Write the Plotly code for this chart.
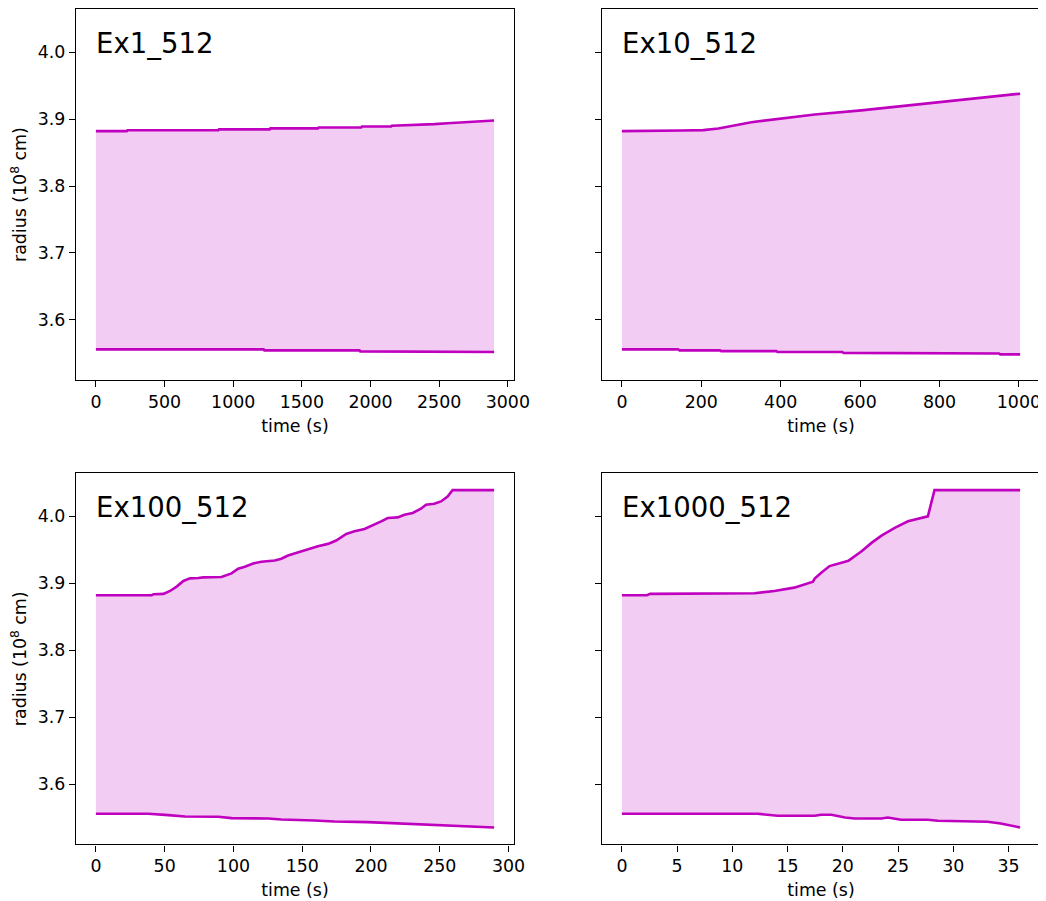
import plotly.graph_objects as go

# ---------------- data (time in s, radius in 1e8 cm) ----------------
panel_names = ["Ex1_512", "Ex10_512", "Ex100_512", "Ex1000_512"]

ex1_t_upper = [0, 225, 230, 891, 896, 1266, 1271, 1617, 1622, 1932, 1937, 2150, 2155, 2355, 2464, 2561, 2706, 2803, 2900]
ex1_r_upper = [3.882, 3.882, 3.8834, 3.8834, 3.8847, 3.8847, 3.8861, 3.8861, 3.8875, 3.8875, 3.8889, 3.8889, 3.8902, 3.8911, 3.8925, 3.8939, 3.8953, 3.8966, 3.898]
ex1_t_lower = [0, 1222, 1227, 1920, 1925, 2815, 2820, 2900]
ex1_r_lower = [3.556, 3.556, 3.5545, 3.5545, 3.553, 3.553, 3.552, 3.552]

ex10_t_upper = [0, 146, 150, 205, 243, 326, 419, 486, 603, 712, 821, 888, 1003]
ex10_r_upper = [3.882, 3.882, 3.883, 3.8835, 3.886, 3.8954, 3.9018, 3.907, 3.913, 3.9197, 3.9257, 3.9306, 3.938]
ex10_t_lower = [0, 142, 145, 247, 250, 389, 392, 555, 558, 749, 752, 950, 953, 1003]
ex10_r_lower = [3.556, 3.556, 3.5545, 3.5545, 3.5533, 3.5533, 3.552, 3.552, 3.5508, 3.5508, 3.5498, 3.5498, 3.5485, 3.5485]

ex100_t_upper = [0, 40.6, 41.8, 49.1, 53.9, 58.7, 63.6, 68.4, 74.4, 78.1, 91.3, 98.6, 103.4, 108.3, 114.3,
                 120.3, 130.0, 134.8, 139.7, 151.8, 156.6, 161.4, 168.7, 174.7, 182.0, 188.0, 195.3, 202.5,
                 207.4, 212.2, 219.4, 224.3, 230.3, 236.3, 240.0, 246.0, 250.9, 255.7, 259.3, 289.5]
ex100_r_upper = [3.882, 3.882, 3.8835, 3.884, 3.8884, 3.8949, 3.9033, 3.9072, 3.9077, 3.9087, 3.9092, 3.9147,
                 3.9216, 3.9246, 3.9295, 3.932, 3.934, 3.9365, 3.9414, 3.9493, 3.9518, 3.9553, 3.9587, 3.9637,
                 3.9736, 3.9775, 3.981, 3.9874, 3.9924, 3.9973, 3.9983, 4.0023, 4.0048, 4.0112, 4.0171, 4.0186,
                 4.0221, 4.0295, 4.0389, 4.0389]
ex100_t_lower = [0, 38.2, 52.7, 64.8, 88.9, 98.6, 125.2, 134.8, 159.0, 173.5, 197.7, 214.6, 229.1, 243.6,
                 262.9, 275.0, 282.3, 289.5]
ex100_r_lower = [3.5558, 3.5558, 3.5538, 3.5518, 3.5513, 3.5493, 3.5488, 3.5473, 3.5458, 3.5443, 3.5433,
                 3.5419, 3.5404, 3.5389, 3.5379, 3.5369, 3.5359, 3.5354]

ex1000_t_upper = [0, 2.26, 2.56, 9.93, 10.5, 12.0, 13.8, 15.6, 17.3, 17.45, 18.05, 18.8, 20.2, 20.5, 21.7,
                  22.6, 23.5, 24.7, 25.9, 26.8, 27.7, 28.3, 36.05]
ex1000_r_upper = [3.882, 3.882, 3.884, 3.884, 3.885, 3.885, 3.8884, 3.8934, 3.9023, 3.9068, 3.9157, 3.9256,
                  3.932, 3.9335, 3.9478, 3.9602, 3.9711, 3.9825, 3.9924, 3.9958, 3.9998, 4.0389, 4.0389]
ex1000_t_lower = [0, 12.3, 14.1, 17.45, 18.05, 18.96, 20.2, 21.06, 23.5, 24.07, 25.28, 27.7, 28.6, 30.7,
                  32.5, 33.1, 34.3, 35.5, 36.05]
ex1000_r_lower = [3.5558, 3.5558, 3.5528, 3.5528, 3.5543, 3.5543, 3.5503, 3.5488, 3.5488, 3.5503, 3.5468,
                  3.5468, 3.5453, 3.5443, 3.5438, 3.5438, 3.5414, 3.5369, 3.5354]

x_tickvals = [
    [0, 500, 1000, 1500, 2000, 2500, 3000],
    [0, 200, 400, 600, 800, 1000],
    [0, 50, 100, 150, 200, 250, 300],
    [0, 5, 10, 15, 20, 25, 30, 35],
]
y_tickvals = [3.6, 3.7, 3.8, 3.9, 4.0]
y_ticktext = ["3.6", "3.7", "3.8", "3.9", "4.0"]

panels = [
    (ex1_t_upper, ex1_r_upper, ex1_t_lower, ex1_r_lower),
    (ex10_t_upper, ex10_r_upper, ex10_t_lower, ex10_r_lower),
    (ex100_t_upper, ex100_r_upper, ex100_t_lower, ex100_r_lower),
    (ex1000_t_upper, ex1000_r_upper, ex1000_t_lower, ex1000_r_lower),
]

# ---------------- styling ----------------
OFF = 8                      # default page body margin
W, H = 1046 - OFF, 901 - OFF
LINE = "#bf00bf"
FILL = "rgba(191,0,191,0.2)"
FONT = "DejaVu Sans"
TICK_SIZE = 17.4


def xdom(a, b):
    return [(a - OFF) / W, (b - OFF) / W]


def ydom(top, bottom):
    return [1 - (bottom - OFF) / H, 1 - (top - OFF) / H]


x_domains = [xdom(76, 514), xdom(602, 1040), xdom(76, 514), xdom(602, 1040)]
y_domains = [ydom(9.3, 380), ydom(9.3, 380), ydom(473.3, 844.3), ydom(473.3, 844.3)]

all_r = ex1_r_upper + ex1_r_lower + ex10_r_upper + ex10_r_lower + ex100_r_upper + ex100_r_lower + ex1000_r_upper + ex1000_r_lower
rmin, rmax = min(all_r), max(all_r)
rpad = 0.05 * (rmax - rmin)
y_range = [rmin - rpad, rmax + rpad]

fig = go.Figure()
layout = dict(
    width=W, height=H,
    margin=dict(l=0, r=0, t=0, b=0, autoexpand=False),
    paper_bgcolor="white", plot_bgcolor="white",
    showlegend=False,
    font=dict(family=FONT, color="black", size=TICK_SIZE),
    annotations=[],
)

for i, (tu, ru, tl, rl) in enumerate(panels):
    n = i + 1
    xa = "x" if n == 1 else f"x{n}"
    ya = "y" if n == 1 else f"y{n}"
    # filled band between lower and upper radius
    fig.add_trace(go.Scatter(
        x=tu + tl[::-1], y=ru + rl[::-1], xaxis=xa, yaxis=ya,
        mode="lines", fill="toself", fillcolor=FILL, line=dict(width=0),
        hoverinfo="skip"))
    fig.add_trace(go.Scatter(x=tu, y=ru, xaxis=xa, yaxis=ya, mode="lines",
                             line=dict(color=LINE, width=2.6)))
    fig.add_trace(go.Scatter(x=tl, y=rl, xaxis=xa, yaxis=ya, mode="lines",
                             line=dict(color=LINE, width=2.6)))

    tmax = max(tu + tl)
    tmin = min(tu + tl)
    pad = 0.05 * (tmax - tmin)
    axis_common = dict(
        showline=True, mirror=True, linecolor="black", linewidth=1.4,
        ticks="outside", ticklen=6, tickwidth=1.4, tickcolor="black",
        showgrid=False, zeroline=False, automargin=False,
        tickfont=dict(family=FONT, size=TICK_SIZE, color="black"),
    )
    layout["xaxis" if n == 1 else f"xaxis{n}"] = dict(
        axis_common, domain=x_domains[i], anchor=ya,
        range=[tmin - pad, tmax + pad], tickvals=x_tickvals[i],
        ticktext=[str(v) for v in x_tickvals[i]],
        title=dict(text="time (s)", font=dict(family=FONT, size=TICK_SIZE, color="black"), standoff=8),
    )
    ydict = dict(
        axis_common, domain=y_domains[i], anchor=xa, range=y_range,
        tickvals=y_tickvals, ticktext=y_ticktext,
        showticklabels=(i % 2 == 0),
    )
    if i % 2 == 0:
        ydict["title"] = dict(text="radius (10<sup>8</sup> cm)",
                              font=dict(family=FONT, size=TICK_SIZE, color="black"), standoff=8)
    layout["yaxis" if n == 1 else f"yaxis{n}"] = ydict

    layout["annotations"].append(dict(
        text=panel_names[i], xref=f"{xa} domain", yref=f"{ya} domain",
        x=0.04, y=0.909, xanchor="left", yanchor="middle", showarrow=False,
        font=dict(family=FONT, size=27.5, color="black")))

fig.update_layout(**layout)
fig.write_html("out.html")
